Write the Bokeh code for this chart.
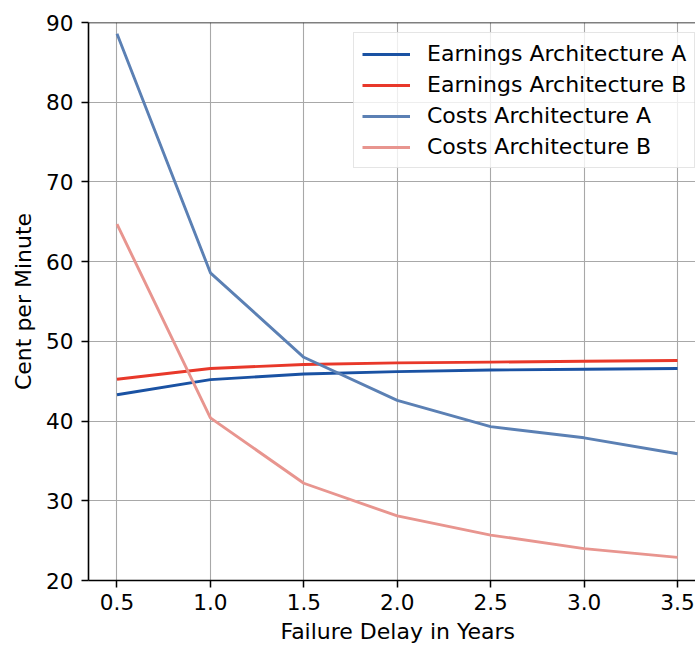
from bokeh.plotting import figure
from bokeh.models import Range1d, FixedTicker, Span, Legend, LegendItem, Title
from bokeh.embed import file_html
from bokeh.resources import INLINE

delay_years = [0.5, 1.0, 1.5, 2.0, 2.5, 3.0, 3.5]
earnings_a = [43.3, 45.2, 45.9, 46.2, 46.4, 46.5, 46.6]
earnings_b = [45.25, 46.6, 47.1, 47.3, 47.4, 47.5, 47.6]
costs_a = [88.6, 58.6, 48.0, 42.6, 39.3, 37.9, 35.9]
costs_b = [64.7, 40.4, 32.2, 28.1, 25.7, 24.0, 22.9]

x_ticks = [0.5, 1.0, 1.5, 2.0, 2.5, 3.0, 3.5]
x_tick_labels = ["0.5", "1.0", "1.5", "2.0", "2.5", "3.0", "3.5"]
y_ticks = [20, 30, 40, 50, 60, 70, 80, 90]

series = [
    ("Earnings Architecture A", earnings_a, "#1a52a3"),
    ("Earnings Architecture B", earnings_b, "#e8382a"),
    ("Costs Architecture A", costs_a, "#5b80b4"),
    ("Costs Architecture B", costs_b, "#e8958f"),
]

FONT = "DejaVu Sans"
FS_TICK = "21.6px"
FS = "22px"

p = figure(width=695, height=646, output_backend="svg", toolbar_location=None,
           x_range=Range1d(0.3475, 3.5963), y_range=Range1d(20, 90),
           min_border_left=88, min_border_top=22, min_border_bottom=66, min_border_right=0)
p.outline_line_color = None
p.background_fill_color = "white"
p.border_fill_color = "white"

for ax in (p.xaxis[0], p.yaxis[0]):
    ax.axis_line_width = 1.6
    ax.axis_line_color = "black"
    ax.major_tick_line_width = 1.5
    ax.major_tick_line_color = "black"
    ax.major_tick_out = 7
    ax.major_tick_in = 0
    ax.minor_tick_line_color = None
    ax.major_label_text_font = FONT
    ax.major_label_text_font_size = FS_TICK
    ax.major_label_text_color = "black"
    ax.axis_label_text_font = FONT
    ax.axis_label_text_font_size = FS
    ax.axis_label_text_font_style = "normal"
    ax.axis_label_text_color = "black"

p.xaxis.major_label_standoff = 6
p.yaxis.major_label_standoff = 8
p.xaxis.ticker = FixedTicker(ticks=x_ticks)
p.xaxis.major_label_overrides = {t: l for t, l in zip(x_ticks, x_tick_labels)}
p.yaxis.ticker = FixedTicker(ticks=y_ticks)
p.yaxis.axis_label = "Cent per Minute"
p.yaxis.axis_label_standoff = 7

# x-axis title, placed in its own panel beneath the tick labels
x_title = Title(text="Failure Delay in Years", align="left", offset=192,
                vertical_align="top", standoff=0, padding=(0, 0, 6, 0),
                text_font=FONT, text_font_size=FS, text_font_style="normal",
                text_color="black")
p.add_layout(x_title, "below")

p.xgrid.ticker = FixedTicker(ticks=x_ticks)
p.ygrid.ticker = FixedTicker(ticks=y_ticks)
for g in (p.xgrid[0], p.ygrid[0]):
    g.grid_line_color = "#a8a8a8"
    g.grid_line_width = 1.1

p.add_layout(Span(location=90, dimension="width", line_color="black", line_width=1.6))

items = []
for name, vals, color in series:
    r = p.line(delay_years, vals, line_color=color, line_width=2.9)
    items.append(LegendItem(label=name, renderers=[r]))

legend = Legend(items=items, location=(265, 412))
legend.label_text_font = FONT
legend.label_text_font_size = FS
legend.label_text_color = "black"
legend.glyph_width = 48
legend.glyph_height = 20
legend.label_height = 20
legend.label_standoff = 17
legend.spacing = 6
legend.padding = 8
legend.margin = 0
legend.border_line_color = "#cccccc"
legend.border_line_width = 1.2
legend.background_fill_color = "white"
legend.background_fill_alpha = 0.8
p.add_layout(legend)

open("out.html", "w").write(file_html(p, INLINE))
